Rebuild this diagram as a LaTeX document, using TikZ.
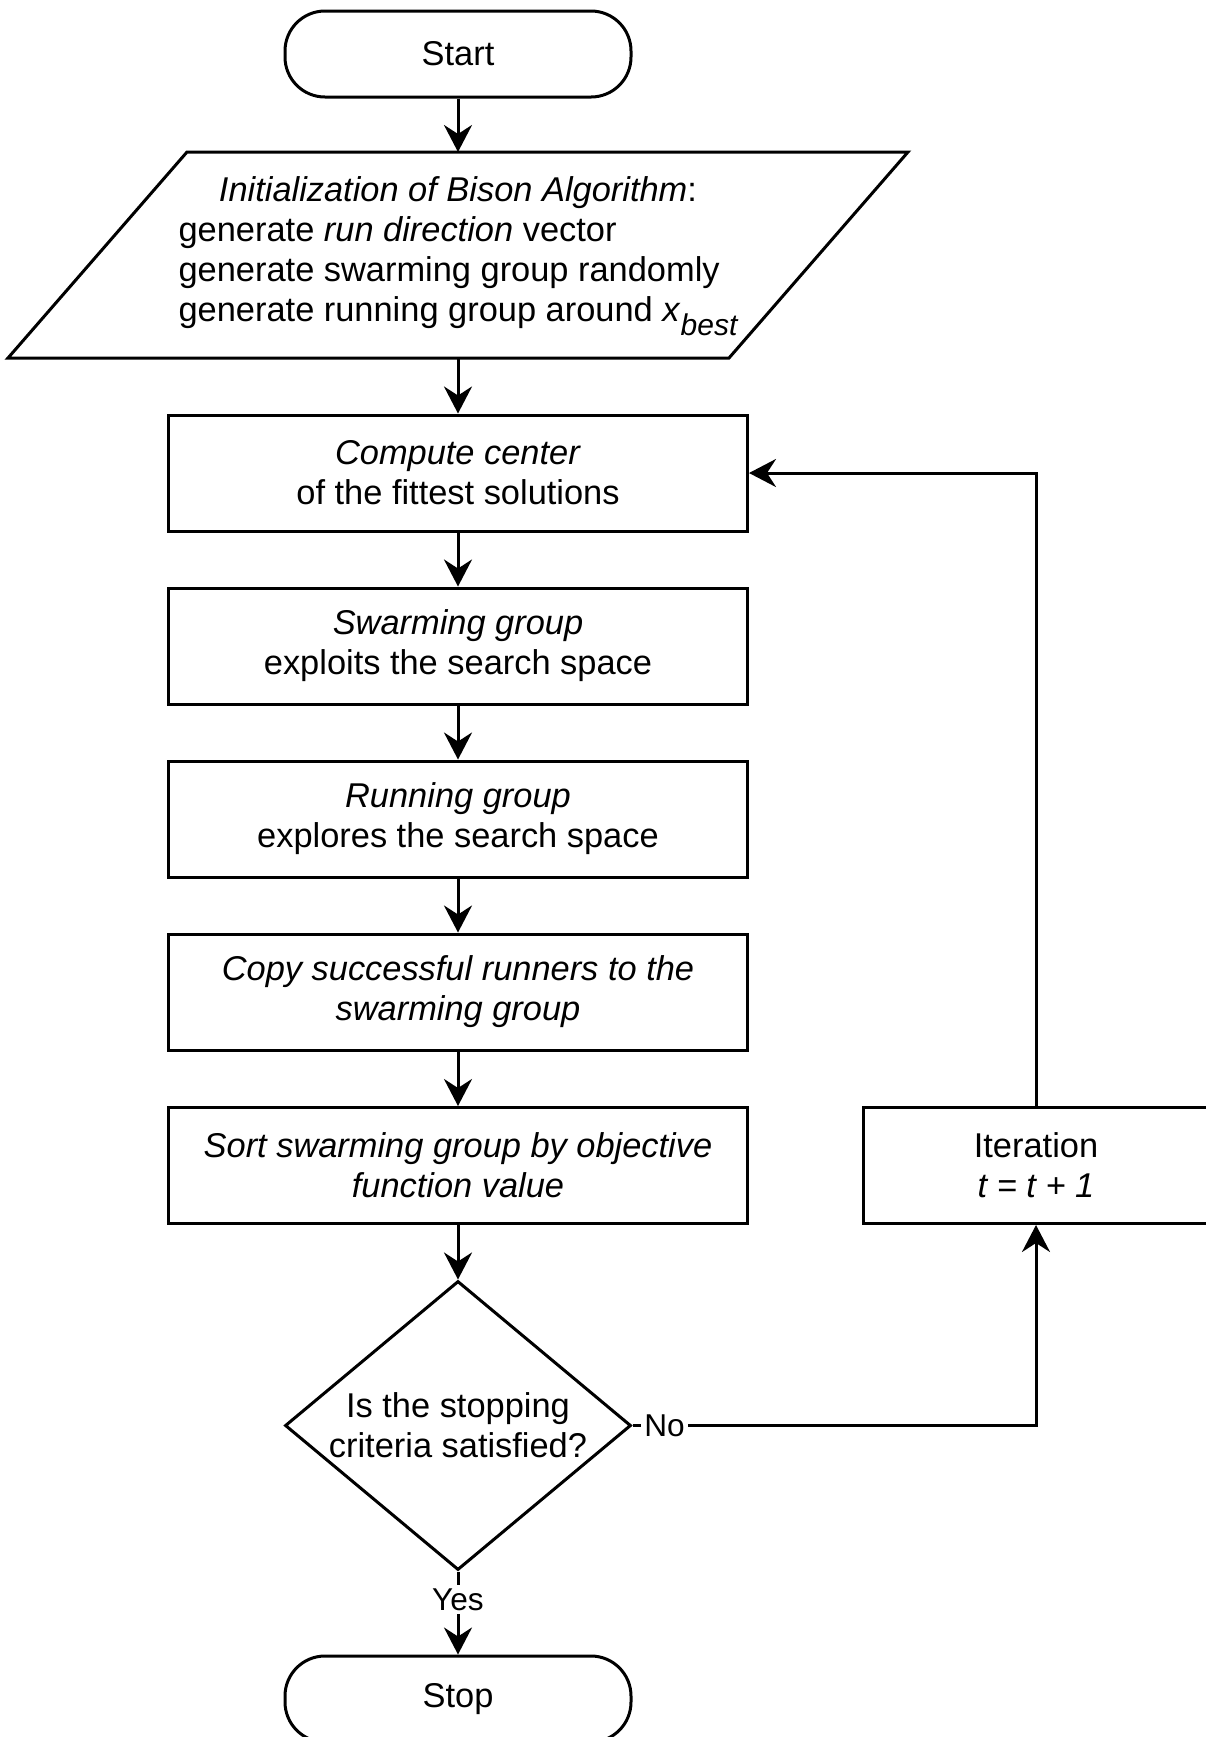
\documentclass[tikz,border=0pt]{standalone}
\usepackage{fontspec}
\setmainfont{Liberation Sans}
\usetikzlibrary{arrows.meta,shapes.geometric}
\begin{document}
\begin{tikzpicture}[x=0.5pt,y=-0.5pt,
  base/.style={font=\fontsize{17.2}{20}\selectfont, line width=1.5pt, align=center},
  term/.style={base, draw, rounded corners=20pt, minimum width=173pt, minimum height=43pt, inner sep=0pt},
  proc/.style={base, draw, minimum width=289.5pt, minimum height=58pt, inner sep=0pt},
  decision/.style={base, draw, diamond, minimum width=173pt, minimum height=144.5pt, inner sep=0pt},
  arr/.style={line width=1.5pt, -{Stealth[length=13.5pt,width=14pt,inset=4.5pt]}},
  lbl/.style={font=\fontsize{15.8}{18}\selectfont, fill=white, inner sep=1.5pt},
]
\fill[white] (0,0) rectangle (1206,1737);
\useasboundingbox (0,0) rectangle (1206,1737);

\node[term] (start) at (458,54) {Start};

\node[base, minimum width=359pt, minimum height=101.5pt, inner sep=0pt] (init) at (458,255) {%
\begin{tabular}{@{}l@{}}
\multicolumn{1}{@{}c@{}}{\textit{Initialization of Bison Algorithm}:}\\
generate \textit{run direction} vector\\
generate swarming group randomly\\
generate running group around \textit{x}\raisebox{-0.4em}{\fontsize{15}{15}\selectfont\itshape best}
\end{tabular}};
\draw[line width=1.5pt] ([xshift=44.75pt]init.north west) -- ([xshift=44.75pt]init.north east)
  -- ([xshift=-44.75pt]init.south east) -- ([xshift=-44.75pt]init.south west) -- cycle;

\node[proc] (compute) at (458,473) {\textit{Compute center}\\of the fittest solutions};
\node[proc] (swarm) at (458,646) {\textit{Swarming group}\\exploits the search space};
\node[proc] (run) at (458,819) {\textit{Running group}\\explores the search space};
\node[proc] (copy) at (458,992) {\textit{Copy successful runners to the}\\\textit{swarming group}};
\node[proc] (sort) at (458,1165.5) {\textit{Sort swarming group by objective}\\\textit{function value}};
\node[proc, minimum width=173pt] (iter) at (1036,1165.5) {Iteration\\\textit{t = t + 1}};
\node[decision] (dec) at (458,1425.5) {};
\node[base] (dectext) at (dec.center) {Is the stopping\\criteria satisfied?};
\node[term] (stop) at (458,1699) {Stop};

\draw[arr] (start) -- (init);
\draw[arr] (init) -- (compute);
\draw[arr] (compute) -- (swarm);
\draw[arr] (swarm) -- (run);
\draw[arr] (run) -- (copy);
\draw[arr] (copy) -- (sort);
\draw[arr] (sort) -- (dec);
\draw[arr] (dec.south) -- (stop.north);
\node[lbl] (yes) at ([yshift=-14pt]dec.south) {Yes};
\draw[arr] (dec.east) -| (iter.south);
\node[lbl] (no) at ([xshift=16pt]dec.east) {No};
\draw[arr] (iter.north) |- (compute.east);
\end{tikzpicture}
\end{document}
